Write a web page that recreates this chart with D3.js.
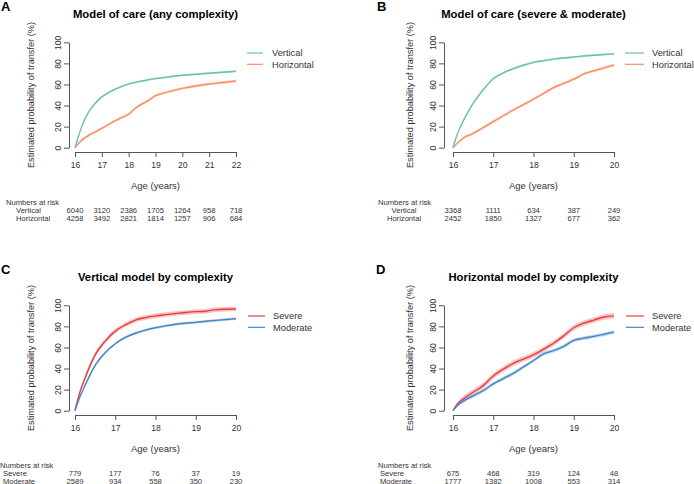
<!DOCTYPE html>
<html><head><meta charset="utf-8">
<script src="https://cdn.jsdelivr.net/npm/d3@7/dist/d3.min.js"></script>
<style>body{margin:0;background:#fff}svg{display:block;font-family:"Liberation Sans",Arial,sans-serif}</style>
</head><body><svg id="c" width="694" height="484"></svg>
<script>
// ---------- data ----------
const agesA = [16,16.1,16.25,16.5,16.75,17,17.25,17.5,17.75,18,18.25,18.5,18.75,19,19.25,19.5,20,20.5,21,21.5,22];
const verticalA = [0,8.5,20,33.5,42,48.2,52.2,55.5,58.2,60.5,62,63.3,64.5,65.5,66.4,67.2,68.7,69.7,70.6,71.6,72.5];
const horizontalA = [0,3,7,11.5,15,18.4,22,25.6,28.8,31.8,37.5,41.5,45,49.3,51.5,53.2,56.3,58.6,60.4,61.8,63.3];

const ages20 = [16,16.1,16.25,16.5,16.75,17,17.25,17.5,17.75,18,18.25,18.5,18.75,19,19.25,19.5,19.75,20];
const verticalB = [0,12,25,42,55,65.5,71,75,78.2,81,82.6,84,85.1,86,87,87.7,88.4,89];
const horizontalB = [0,4,9,13.5,19,24.7,30.3,35.8,40.8,46,51.5,57,61,65,70,73,75.8,78.5];

const severeC = [0,15,31,53,66,75.5,81.5,86,88.3,90,91.2,92.2,93.2,94,94.4,95.9,96.3,96.5];
const moderateC = [0,11,24,43,55,63.5,69.5,73.5,76.5,78.7,80.5,82,83,83.8,84.8,85.7,86.5,87.3];

const severeD = [0,6,11,17.5,23.8,33,39.4,45,49,53,58.4,64,71,78.7,83,86,88.9,90];
const moderateD = [0,4.5,9,14,19,25.4,30.5,35.5,41.5,47.6,54,57,61,66.7,68.8,70.5,72.5,74.6];

const yTicks = [0,20,40,60,80,100];
const xTicksA = [16,17,18,19,20,21,22];
const xTicks20 = [16,17,18,19,20];

const riskA = {Vertical:[6040,3120,2386,1705,1264,958,718], Horizontal:[4258,3492,2821,1814,1257,906,684]};
const riskB = {Vertical:[3368,1111,634,387,249], Horizontal:[2452,1850,1327,677,362]};
const riskC = {Severe:[779,177,76,37,19], Moderate:[2589,934,558,350,230]};
const riskD = {Severe:[675,468,319,124,48], Moderate:[1777,1382,1008,553,314]};

const titles = ["Model of care (any complexity)","Model of care (severe & moderate)","Vertical model by complexity","Horizontal model by complexity"];
const letters = ["A","B","C","D"];

// ---------- styling ----------
const colV = "#66c2a5", colH = "#fc8d62", colS = "#ec3b40", colM = "#3f86c6";
const axisCol = "#555", txtCol = "#333";

const panels = [
  {letter:letters[0], title:titles[0], ages:agesA, xt:xTicksA, dom:[16,22], series:[{name:"Vertical",v:verticalA,c:colV,b:1.0},{name:"Horizontal",v:horizontalA,c:colH,b:1.4}],
   risk:riskA, oy:0, x0:75, x1:236, yAxX:69, yTitX:34, letX:1, lineX:[247,263], legTx:272, rtX:6, rlX:16, rlAnchor:"start"},
  {letter:letters[1], title:titles[1], ages:ages20, xt:xTicks20, dom:[16,20], series:[{name:"Vertical",v:verticalB,c:colV,b:1.0},{name:"Horizontal",v:horizontalB,c:colH,b:1.5}],
   risk:riskB, oy:0, x0:453, x1:614, yAxX:444, yTitX:413, letX:377, lineX:[625,644], legTx:652, rtX:378, rlX:404, rlAnchor:"middle"},
  {letter:letters[2], title:titles[2], ages:ages20, xt:xTicks20, dom:[16,20], series:[{name:"Severe",v:severeC,c:colS,b:2.2},{name:"Moderate",v:moderateC,c:colM,b:1.3}],
   risk:riskC, oy:263, x0:75, x1:236, yAxX:69, yTitX:34, letX:1, lineX:[248,265], legTx:273, rtX:0, rlX:3, rlAnchor:"start"},
  {letter:letters[3], title:titles[3], ages:ages20, xt:xTicks20, dom:[16,20], series:[{name:"Severe",v:severeD,c:colS,b:2.6},{name:"Moderate",v:moderateD,c:colM,b:1.8}],
   risk:riskD, oy:263, x0:453, x1:614, yAxX:444, yTitX:413, letX:376, lineX:[626,644], legTx:652, rtX:378, rlX:380, rlAnchor:"start"}
];

const svg = d3.select("#c");

panels.forEach(p => {
  const g = svg.append("g").attr("transform", `translate(0,${p.oy})`);
  const x = d3.scaleLinear().domain(p.dom).range([p.x0, p.x1]);
  const y = d3.scaleLinear().domain([0,100]).range([147.7, 42.3]);

  // letter + title
  g.append("text").attr("x", p.letX).attr("y", 10.8).attr("font-size", 13).attr("font-weight", "bold").attr("fill", "#000").text(p.letter);
  g.append("text").attr("x", (p.x0+p.x1)/2).attr("y", 18.4).attr("text-anchor","middle").attr("font-size", 11.3).attr("font-weight","bold").attr("fill","#000").text(p.title);

  // bands and lines
  p.series.forEach(s => {
    const pts = p.ages.map((a,i) => ({a, v:s.v[i], lo:Math.max(0,s.v[i]-s.b*Math.min(1,i/2)), hi:s.v[i]+s.b*Math.min(1,i/2)}));
    g.append("path").datum(pts).attr("fill", s.c).attr("fill-opacity", 0.3)
      .attr("d", d3.area().x(d=>x(d.a)).y0(d=>y(d.lo)).y1(d=>y(d.hi)).curve(d3.curveMonotoneX));
    g.append("path").datum(pts).attr("fill","none").attr("stroke", s.c).attr("stroke-width", 1.4)
      .attr("d", d3.line().x(d=>x(d.a)).y(d=>y(d.v)).curve(d3.curveMonotoneX));
  });

  // y axis
  const ya = g.append("g").attr("transform", `translate(${p.yAxX},0)`)
    .call(d3.axisLeft(y).tickValues(yTicks).tickSize(5).tickSizeOuter(0).tickPadding(3));
  ya.select(".domain").attr("stroke", axisCol);
  ya.selectAll(".tick line").attr("stroke", axisCol);
  ya.selectAll(".tick text").attr("font-size", 8.6).attr("fill", txtCol).attr("font-family","Liberation Sans, Arial, sans-serif")
    .attr("text-anchor","middle").attr("x", 0).attr("y", 0).attr("dy", null)
    .attr("transform", "translate(-8,0) rotate(-90)");
  g.append("text").attr("transform", `translate(${p.yTitX},95) rotate(-90)`).attr("text-anchor","middle")
    .attr("font-size", 9.2).attr("fill", txtCol).text("Estimated probability of transfer (%)");

  // x axis
  const xa = g.append("g").attr("transform", `translate(0,152)`)
    .call(d3.axisBottom(x).tickValues(p.xt).tickFormat(d3.format("d")).tickSize(5).tickSizeOuter(0).tickPadding(5));
  xa.select(".domain").attr("stroke", axisCol);
  xa.selectAll(".tick line").attr("stroke", axisCol);
  xa.selectAll(".tick text").attr("font-size", 8.6).attr("fill", txtCol).attr("font-family","Liberation Sans, Arial, sans-serif");
  g.append("text").attr("x", (p.x0+p.x1)/2).attr("y", 189.3).attr("text-anchor","middle").attr("font-size", 9.5).attr("fill", txtCol).text("Age (years)");

  // legend
  p.series.forEach((s,i) => {
    const ly = 53 + i*11.3;
    g.append("line").attr("x1", p.lineX[0]).attr("x2", p.lineX[1]).attr("y1", ly).attr("y2", ly).attr("stroke", s.c).attr("stroke-width", 1.2);
    g.append("text").attr("x", p.legTx).attr("y", ly).attr("dy","0.35em").attr("font-size", 9.3).attr("fill", txtCol).text(s.name);
  });

  // numbers at risk
  g.append("text").attr("x", p.rtX).attr("y", 205).attr("font-size", 7.6).attr("fill", txtCol).text("Numbers at risk");
  p.series.forEach((s,i) => {
    const ry = 212.6 + i*7.9;
    g.append("text").attr("x", p.rlX).attr("y", ry).attr("text-anchor", p.rlAnchor).attr("font-size", 7.6).attr("fill", txtCol).text(s.name);
    g.selectAll(null).data(p.risk[s.name]).enter().append("text")
      .attr("x", (d,j) => x(p.xt[j])).attr("y", ry).attr("text-anchor","middle").attr("font-size", 7.6).attr("fill", txtCol).text(d=>d);
  });
});
</script></body></html>
